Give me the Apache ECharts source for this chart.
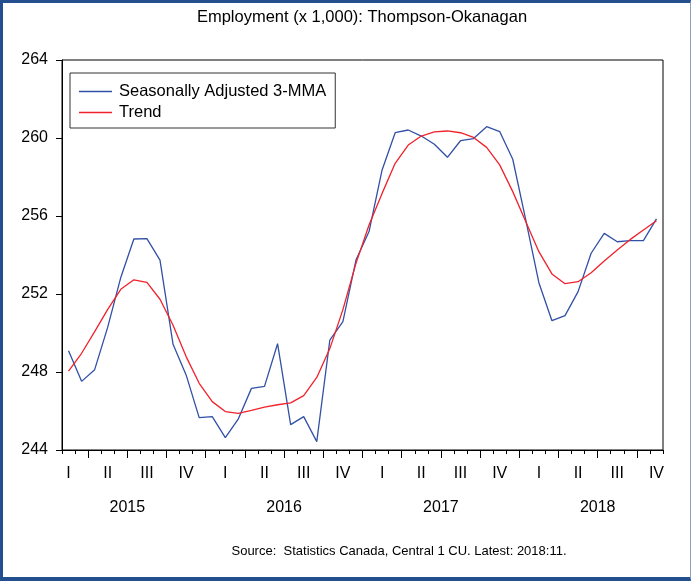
<!DOCTYPE html>
<html>
<head>
<meta charset="utf-8">
<script src="https://cdn.jsdelivr.net/npm/echarts@6/dist/echarts.min.js"></script>
<style>
html,body{margin:0;padding:0;background:#fff;}
#wrap{position:relative;width:691px;height:581px;}
#chart{position:absolute;left:0;top:0;width:691px;height:581px;}
#frame{position:absolute;left:0;top:0;width:691px;height:581px;box-sizing:border-box;
 border-left:3px solid #234f8e;border-top:3px solid #234f8e;border-bottom:4px solid #234f8e;border-right:1px solid #8aa2c4;pointer-events:none;}
</style>
</head>
<body>
<div id="wrap"><div id="chart"></div><div id="frame"></div></div>
<script>
// Months (first observation Feb 2015, latest Nov 2018)
const months = [
 '2015-02','2015-03','2015-04','2015-05','2015-06','2015-07','2015-08','2015-09','2015-10','2015-11','2015-12',
 '2016-01','2016-02','2016-03','2016-04','2016-05','2016-06','2016-07','2016-08','2016-09','2016-10','2016-11','2016-12',
 '2017-01','2017-02','2017-03','2017-04','2017-05','2017-06','2017-07','2017-08','2017-09','2017-10','2017-11','2017-12',
 '2018-01','2018-02','2018-03','2018-04','2018-05','2018-06','2018-07','2018-08','2018-09','2018-10','2018-11'
];
const seasonallyAdjusted = [
 249.09,247.52,248.12,250.30,252.85,254.82,254.84,253.74,249.42,247.85,245.66,
 245.71,244.63,245.60,247.16,247.26,249.45,245.30,245.71,244.43,249.64,250.58,253.74,
 255.20,258.36,260.27,260.41,260.10,259.68,259.01,259.86,259.97,260.58,260.33,258.91,
 255.79,252.58,250.63,250.89,252.12,254.09,255.11,254.68,254.74,254.74,255.85
];
const trend = [
 248.05,248.96,250.07,251.21,252.24,252.73,252.60,251.73,250.40,248.79,247.42,
 246.48,245.97,245.88,246.03,246.20,246.32,246.42,246.79,247.72,249.20,251.20,253.57,
 255.54,257.16,258.70,259.64,260.10,260.31,260.36,260.27,260.03,259.52,258.62,257.25,
 255.71,254.17,253.03,252.53,252.63,253.09,253.69,254.26,254.80,255.28,255.76
];
const quarterLabels = ['I','II','III','IV'];
const years = ['2015','2016','2017','2018'];
const yTicks = [244, 248, 252, 256, 260, 264];

const baseYear = +years[0];
// position in months since start of base year; observation sits mid-month
function monthPos(m){ const p = m.split('-'); return (+p[0]-baseYear)*12 + (+p[1]-1); }
const starts = months.map(monthPos);
const axisMin = starts[0];
const axisMax = starts[starts.length-1] + 1;
const monthTicks = [];
for (let v = axisMin; v <= axisMax; v++) monthTicks.push(v);
const quarterTicks = monthTicks.filter(v => v % 3 === 0);
const quarterCenters = [];
years.forEach((y, yi) => quarterLabels.forEach((q, qi) => quarterCenters.push(yi*12 + qi*3 + 1.5)));
const yearCenters = years.map((y, yi) => yi*12 + 6);

const FONT = "'Liberation Sans', Arial, Helvetica, sans-serif";
const blueSeries = months.map((m, i) => [starts[i] + 0.5, seasonallyAdjusted[i]]);
const redSeries = months.map((m, i) => [starts[i] + 0.5, trend[i]]);

const chart = echarts.init(document.getElementById('chart'), null, {renderer: 'canvas'});
chart.setOption({
  animation: false,
  backgroundColor: '#fff',
  textStyle: {fontFamily: FONT, color: '#000'},
  title: [
    {text: 'Employment (x 1,000): Thompson-Okanagan', left: 362, top: 9, textAlign: 'center', padding: 0,
     textStyle: {fontFamily: FONT, fontSize: 16.5, fontWeight: 'normal', color: '#000'}},
    {text: 'Source:  Statistics Canada, Central 1 CU. Latest: 2018:11.', left: 399, top: 545, textAlign: 'center', padding: 0,
     textStyle: {fontFamily: FONT, fontSize: 13, fontWeight: 'normal', color: '#000'}}
  ],
  legend: {
    orient: 'vertical', left: 70, top: 73,
    padding: [10, 9, 7, 9],
    icon: 'rect',
    itemWidth: 33, itemHeight: 1.4, itemGap: 4,
    borderColor: '#333', borderWidth: 1, backgroundColor: '#fff',
    textStyle: {fontFamily: FONT, fontSize: 16.5, color: '#000', padding: [0,0,0,2]},
    data: ['Seasonally Adjusted 3-MMA', 'Trend']
  },
  grid: {left: 62, top: 60, width: 601, height: 390, show: true, borderColor: '#000', borderWidth: 1, backgroundColor: 'transparent'},
  xAxis: [
    {type: 'value', min: axisMin, max: axisMax, interval: 1, position: 'bottom',
     axisLine: {show: true, lineStyle: {color: '#000', width: 1}},
     axisTick: {show: true, length: 4, lineStyle: {color: '#000'}},
     axisLabel: {show: false}, splitLine: {show: false}},
    {type: 'value', min: axisMin, max: axisMax, position: 'bottom',
     axisLine: {show: false},
     axisTick: {show: true, length: 8, customValues: quarterTicks, lineStyle: {color: '#000'}},
     axisLabel: {show: true, customValues: quarterCenters, margin: 16, fontFamily: FONT, fontSize: 16, color: '#000',
       formatter: v => quarterLabels[Math.floor(v / 3) % 4]},
     splitLine: {show: false}},
    {type: 'value', min: axisMin, max: axisMax, position: 'bottom',
     axisLine: {show: false}, axisTick: {show: false},
     axisLabel: {show: true, customValues: yearCenters, margin: 50, fontFamily: FONT, fontSize: 16, color: '#000',
       formatter: v => years[Math.round((v - 6) / 12)]},
     splitLine: {show: false}}
  ],
  yAxis: {
    type: 'value', min: yTicks[0], max: yTicks[yTicks.length-1], interval: 4,
    axisLine: {show: true, lineStyle: {color: '#000', width: 1}},
    axisTick: {show: true, length: 6, lineStyle: {color: '#000'}},
    axisLabel: {margin: 14, fontFamily: FONT, fontSize: 16, color: '#000'},
    splitLine: {show: false}
  },
  series: [
    {name: 'Seasonally Adjusted 3-MMA', type: 'line', xAxisIndex: 0, data: blueSeries,
     symbol: 'none', lineStyle: {color: '#3150a6', width: 1.3}, itemStyle: {color: '#3150a6'}},
    {name: 'Trend', type: 'line', xAxisIndex: 0, data: redSeries,
     symbol: 'none', lineStyle: {color: '#f0222c', width: 1.3}, itemStyle: {color: '#f0222c'}}
  ]
});
</script>
</body>
</html>
